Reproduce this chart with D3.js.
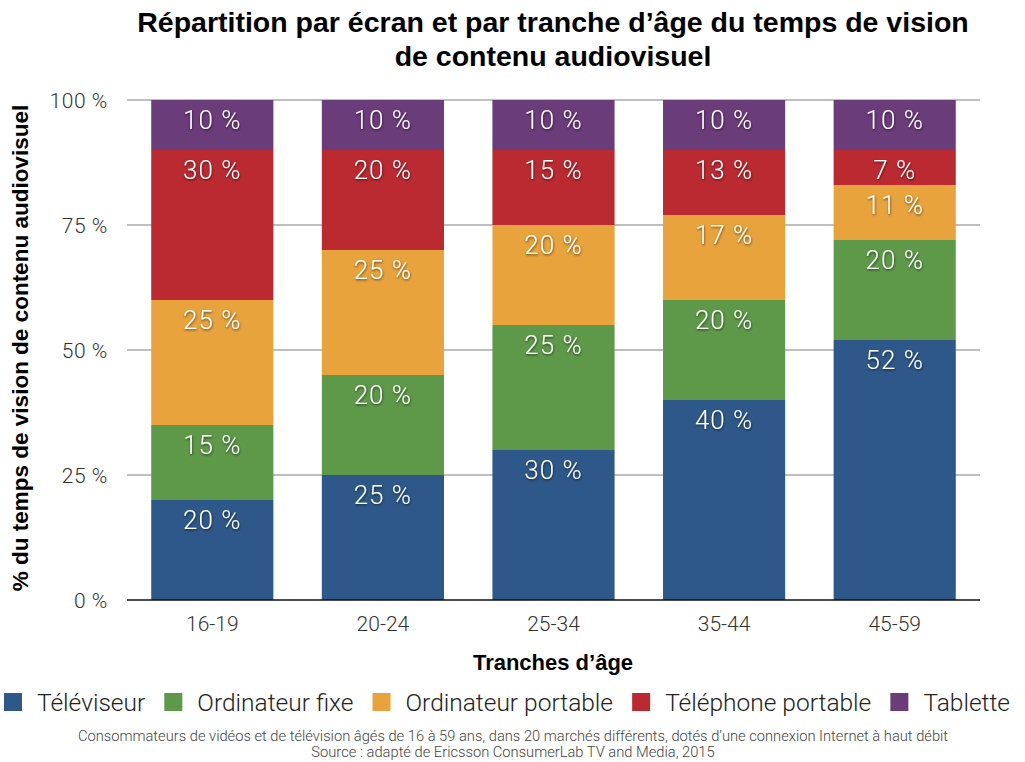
<!DOCTYPE html>
<html><head><meta charset="utf-8">
<script src="https://cdn.jsdelivr.net/npm/d3@7"></script>
<style>
body{margin:0;background:#fff;}
svg{display:block;}
</style></head>
<body>
<svg id="chart" width="1025" height="762"></svg>
<script>
const categories = ["16-19","20-24","25-34","35-44","45-59"];
const seriesNames = ["Téléviseur","Ordinateur fixe","Ordinateur portable","Téléphone portable","Tablette"];
const televiseur = [20,25,30,40,52];
const ordinateurFixe = [15,20,25,20,20];
const ordinateurPortable = [25,25,20,17,11];
const telephonePortable = [30,20,15,13,7];
const tablette = [10,10,10,10,10];
const yTicks = [0,25,50,75,100];
const colors = ["#2e5889","#5e9949","#e8a33d","#bb2a30","#6b3c7a"];
const titleLines = ["Répartition par écran et par tranche d’âge du temps de vision","de contenu audiovisuel"];
const yTitle = "% du temps de vision de contenu audiovisuel";
const xTitle = "Tranches d’âge";
const footer = ["Consommateurs de vidéos et de télévision âgés de 16 à 59 ans, dans 20 marchés différents, dotés d’une connexion Internet à haut débit","Source : adapté de Ericsson ConsumerLab TV and Media, 2015"];

const seriesValues = [televiseur, ordinateurFixe, ordinateurPortable, telephonePortable, tablette];
const table = categories.map((c,i)=>{const o={cat:c}; seriesNames.forEach((s,j)=>o[s]=seriesValues[j][i]); return o;});
const stacked = d3.stack().keys(seriesNames)(table);

const svg = d3.select("#chart");
const light = "Roboto, 'Liberation Sans', sans-serif";
const bold = "'Liberation Sans', Arial, sans-serif";

const defs = svg.append("defs");
const f = defs.append("filter").attr("id","ts").attr("x","-20%").attr("y","-20%").attr("width","140%").attr("height","160%");
f.append("feDropShadow").attr("dx",0.5).attr("dy",1.2).attr("stdDeviation",0.8).attr("flood-color","#000").attr("flood-opacity",0.6);

const x = d3.scaleBand().domain(categories).range([127,980]).paddingInner(0.284).paddingOuter(0.142);
const y = d3.scaleLinear().domain([0,100]).range([600,100]);

// title
svg.append("g").selectAll("text").data(titleLines).join("text")
  .attr("x",553).attr("y",(d,i)=>32+i*34)
  .attr("text-anchor","middle").attr("font-family",bold).attr("font-weight","bold")
  .attr("font-size",28.5).attr("fill","#000").text(d=>d);

// gridlines
const yAxis = d3.axisLeft(y).tickValues(yTicks).tickSize(0).tickFormat(d=>d+" %");
const gy = svg.append("g").attr("transform","translate(127,0)");
gy.selectAll("line.grid").data(yTicks.filter(t=>t>0)).join("line").attr("class","grid")
  .attr("x1",0).attr("x2",853).attr("y1",d=>y(d)).attr("y2",d=>y(d))
  .attr("stroke","#aaa").attr("stroke-width",1.5);
const gya = svg.append("g").attr("transform","translate(108,0)").call(yAxis);
gya.select(".domain").remove();
gya.selectAll("text").attr("font-family",light).attr("font-weight",300).attr("font-size",21).attr("letter-spacing",0.6).attr("fill","#333").attr("dy","0.35em").attr("x",0);

// bars
const layers = svg.append("g").selectAll("g").data(stacked).join("g").attr("fill",(d,i)=>colors[i]);
layers.selectAll("rect").data(d=>d).join("rect")
  .attr("x",d=>x(d.data.cat)).attr("width",x.bandwidth())
  .attr("y",d=>y(d[1])).attr("height",d=>y(d[0])-y(d[1]));

// labels
const lab = svg.append("g");
stacked.forEach(s=>{
  lab.selectAll(null).data(s).join("text")
    .attr("x",d=>x(d.data.cat)+x.bandwidth()/2)
    .attr("y",d=>y(d[1])+20).attr("dy","0.35em")
    .attr("text-anchor","middle").attr("font-family",light).attr("font-weight",300)
    .attr("font-size",26).attr("letter-spacing",1).attr("fill","#fff").attr("filter","url(#ts)")
    .text(d=>(d[1]-d[0])+" %");
});

// baseline
svg.append("line").attr("x1",127).attr("x2",980).attr("y1",y(0)).attr("y2",y(0)).attr("stroke","#111").attr("stroke-width",1.5);

// x axis
const gx = svg.append("g").attr("transform","translate(0,600)").call(d3.axisBottom(x).tickSize(0));
gx.select(".domain").remove();
gx.selectAll("text").attr("font-family",light).attr("font-weight",300).attr("font-size",21).attr("fill","#333").attr("y",31).attr("dy",0);

// axis titles
svg.append("text").attr("x",553).attr("y",670).attr("text-anchor","middle").attr("font-family",bold).attr("font-weight","bold").attr("font-size",22).attr("fill","#000").text(xTitle);
svg.append("text").attr("transform","translate(28,348) rotate(-90)").attr("text-anchor","middle").attr("font-family",bold).attr("font-weight","bold").attr("font-size",22.5).attr("fill","#000").text(yTitle);

// legend
const lg = svg.append("g");
const items = lg.selectAll("g").data(seriesNames).join("g");
items.append("rect").attr("width",18).attr("height",18).attr("y",693).attr("fill",(d,i)=>colors[i]);
items.append("text").attr("x",33).attr("y",711).attr("font-family",light).attr("font-weight",300).attr("font-size",24.5).attr("fill","#222").text(d=>d);
const widths = [];
items.each(function(){widths.push(33+d3.select(this).select("text").node().getComputedTextLength());});
const total = widths.reduce((a,b)=>a+b,0);
const gap = (1010-4-total)/(seriesNames.length-1);
let cx = 4;
items.each(function(d,i){d3.select(this).attr("transform",`translate(${cx},0)`); cx += widths[i]+gap;});

// footer
svg.append("g").selectAll("text").data(footer).join("text")
  .attr("x",513).attr("y",(d,i)=>741+i*16).attr("text-anchor","middle")
  .attr("font-family",light).attr("font-weight",300).attr("font-size",14.7).attr("fill","#444").text(d=>d);
</script>
</body></html>
